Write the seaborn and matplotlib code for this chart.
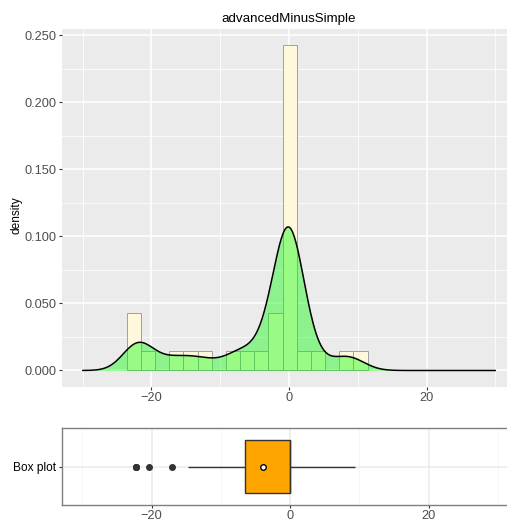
import numpy as np
import pandas as pd
import matplotlib
matplotlib.use('Agg')
import matplotlib.pyplot as plt
from matplotlib.ticker import FixedLocator, FormatStrFormatter
import seaborn as sns

low_tail = [-22.2, -22.2, -22.2, -20.4, -17.1, -14.7, -12.0]
mid_vals = [-8.0, -7.0, -5.0, -2.9, -2.5, -2.0]
zeros = [0.0] * 17
pos_vals = [1.6, 3.6, 7.6, 9.4]
values = low_tail + mid_vals + zeros + pos_vals

bin_start = -23.6
bin_width = 2.06
n_bins = 17
bin_edges = [bin_start + bin_width * i for i in range(n_bins + 1)]

title = 'advancedMinusSimple'
x_major = [-20, 0, 20]
x_minor = [-30, -10, 10, 30]
y_major = [0.0, 0.05, 0.10, 0.15, 0.20, 0.25]
y_minor = [0.025, 0.075, 0.125, 0.175, 0.225]

df = pd.DataFrame({'value': values, 'group': 'Box plot'})

sns.set_theme(style='darkgrid', rc={
    'axes.facecolor': '#EBEBEB',
    'grid.color': 'white',
    'xtick.color': '#333333',
    'ytick.color': '#333333',
    'xtick.labelcolor': '#4D4D4D',
    'ytick.labelcolor': '#4D4D4D',
    'xtick.bottom': True,
    'ytick.left': True,
    'xtick.major.size': 2.4,
    'ytick.major.size': 2.4,
    'xtick.major.width': 0.8,
    'ytick.major.width': 0.8,
    'xtick.major.pad': 1.5,
    'ytick.major.pad': 1.5,
})
plt.rcParams['font.family'] = ['Liberation Sans', 'DejaVu Sans']

fig = plt.figure(figsize=(5.07, 5.21), dpi=100)
ax = fig.add_axes([62 / 507, (521 - 386.7) / 521, 454 / 507, (386.7 - 28.5) / 521])
ax2 = fig.add_axes([61.7 / 507, (521 - 505) / 521, 457 / 507, (505 - 428.3) / 521])

# nrd0 bandwidth like R's density()
sd = np.std(values, ddof=1)
iqr = np.subtract(*np.percentile(values, [75, 25]))
bw = 0.9 * min(sd, iqr / 1.34) * len(values) ** -0.2

sns.histplot(data=df, x='value', bins=bin_edges, stat='density',
             color='#FFF8DC', edgecolor='#A0A0A0', linewidth=0.7, alpha=1, ax=ax)
sns.kdeplot(data=df, x='value', bw_method=bw / sd, cut=30, clip=(-30, 30),
            gridsize=512, fill=True, color='#00FF00', alpha=0.4, linewidth=0, ax=ax)
sns.kdeplot(data=df, x='value', bw_method=bw / sd, cut=30, clip=(-30, 30),
            gridsize=512, color='black', linewidth=1.1, ax=ax)

ax.set_xlim(-33, 33)
ax.set_ylim(-0.0121, 0.255)
ax.xaxis.set_major_locator(FixedLocator(x_major))
ax.xaxis.set_minor_locator(FixedLocator(x_minor))
ax.yaxis.set_major_locator(FixedLocator(y_major))
ax.yaxis.set_minor_locator(FixedLocator(y_minor))
ax.yaxis.set_major_formatter(FormatStrFormatter('%.3f'))
ax.grid(which='major', color='white', linewidth=1.1)
ax.grid(which='minor', color='white', linewidth=0.55)
ax.tick_params(which='minor', length=0)
ax.tick_params(labelsize=9.2)
for s in ax.spines.values():
    s.set_visible(False)
ax.set_xlabel('')
ax.set_ylabel('density', fontsize=8.6, color='black')
ax.yaxis.set_label_coords(-0.086, 0.48)
ax.set_title(title, fontsize=9.6, color='black', pad=5)

sns.boxplot(data=df, x='value', y='group', orient='h', width=0.82,
            color='#FFA500', saturation=1, linecolor='#333333', linewidth=1,
            showcaps=False, showmeans=True, fliersize=4,
            flierprops=dict(marker='o', markerfacecolor='#333333', markeredgecolor='#333333'),
            meanprops=dict(marker='o', markerfacecolor='white', markeredgecolor='black',
                           markersize=4, markeredgewidth=1),
            ax=ax2)
ax2.set_facecolor('white')
ax2.set_xlim(-33, 33)
ax2.set_ylim(0.6, -0.6)
ax2.xaxis.set_major_locator(FixedLocator(x_major))
ax2.xaxis.set_minor_locator(FixedLocator(x_minor))
ax2.grid(which='major', color='#EBEBEB', linewidth=1.1)
ax2.grid(which='minor', color='#F4F4F4', linewidth=0.55)
ax2.tick_params(which='minor', length=0)
ax2.tick_params(labelsize=9.2)
ax2.tick_params(axis='y', labelcolor='black', labelsize=8.6)
for s in ax2.spines.values():
    s.set_visible(True)
    s.set_color('#7F7F7F')
    s.set_linewidth(1)
ax2.set_xlabel('')
ax2.set_ylabel('')

fig.savefig('out.png', dpi=100)
